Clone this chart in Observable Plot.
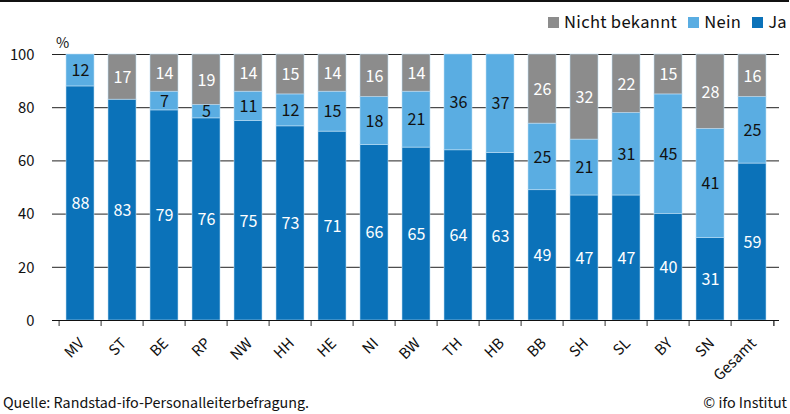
<!DOCTYPE html>
<html>
<head>
<meta charset="utf-8">
<script src="https://cdn.jsdelivr.net/npm/d3@7"></script>
<script src="https://cdn.jsdelivr.net/npm/@observablehq/plot@0.6"></script>
<style>
  html, body { margin: 0; padding: 0; background: #fff; }
  body { font-family: "Source Sans Pro", "Source Sans 3", Lato, sans-serif; color: #111; }
  #wrap { position: relative; width: 790px; height: 414px; overflow: hidden; }
  #topline { position: absolute; left: 0; top: 0; width: 789px; height: 2px; background: #111; }
  #legend { position: absolute; top: 9px; right: 3px; font-size: 18.5px; letter-spacing: 0.3px; display: flex; align-items: center; white-space: nowrap; }
  #legend .item { display: flex; align-items: center; margin-left: 11px; }
  #legend .sw { width: 11px; height: 11px; margin-right: 5px; }
  #pct { position: absolute; left: 56px; top: 32px; font-size: 16px; }
  #source { position: absolute; left: 3px; top: 392px; font-size: 16px; }
  #copy { position: absolute; right: 3px; top: 392px; font-size: 16px; }
  #chart { position: absolute; left: 0; top: 0; }
</style>
</head>
<body>
<div id="wrap">
  <div id="chart"></div>
  <div id="topline"></div>
  <div id="legend"></div>
  <div id="pct">%</div>
  <div id="source">Quelle: Randstad-ifo-Personalleiterbefragung.</div>
  <div id="copy">© ifo Institut</div>
</div>
<script>
const categories = ["MV","ST","BE","RP","NW","HH","HE","NI","BW","TH","HB","BB","SH","SL","BY","SN","Gesamt"];
const ja           = [88, 83, 79, 76, 75, 73, 71, 66, 65, 64, 63, 49, 47, 47, 40, 31, 59];
const nein         = [12,  0,  7,  5, 11, 12, 15, 18, 21, 36, 37, 25, 21, 31, 45, 41, 25];
const nichtBekannt = [ 0, 17, 14, 19, 14, 15, 14, 16, 14,  0,  0, 26, 32, 22, 15, 28, 16];
const series = ["Ja", "Nein", "Nicht bekannt"];
const colors = ["#0b72b9", "#5aade2", "#8c8c8c"];
const yTicks = [0, 20, 40, 60, 80, 100];
const legendOrder = ["Nicht bekannt", "Nein", "Ja"];

const rows = categories.flatMap((c, i) => [
  {cat: c, series: "Ja", value: ja[i]},
  {cat: c, series: "Nein", value: nein[i]},
  {cat: c, series: "Nicht bekannt", value: nichtBekannt[i]}
]);

const W = 790, H = 414, mL = 52, mR = 11, mT = 54, mB = 94;
const step = (W - mL - mR) / categories.length;

const stackOpts = {x: "cat", y: "value", z: "series", order: series};

const plot = Plot.plot({
  width: W, height: H,
  marginLeft: mL, marginRight: mR, marginTop: mT, marginBottom: mB,
  style: {fontFamily: '"Source Sans Pro", "Source Sans 3", Lato, sans-serif', fontSize: "16.5px", color: "#111", background: "transparent"},
  x: {domain: categories, paddingInner: 0.34, paddingOuter: 0.17, label: null, axis: null},
  y: {domain: [0, 100], label: null},
  color: {domain: series, range: colors},
  marks: [
    Plot.ruleY(yTicks.filter(t => t > 0), {stroke: "#222", strokeWidth: 1}),
    Plot.barY(rows, Plot.stackY({...stackOpts, fill: "series", stroke: "#bfe0f7", strokeWidth: 0.8, strokeOpacity: 0.7})),
    Plot.text(rows, Plot.stackY({...stackOpts, text: d => (d.value > 0 && d.series !== "Nein") ? d.value : null, fill: "white", fontSize: 18})),
    Plot.text(rows, Plot.stackY({...stackOpts, text: d => (d.value > 0 && d.series === "Nein") ? d.value : null, fill: "#111", fontSize: 18})),
    Plot.ruleX(categories, {x: d => d, y1: 0, y2: -2.3, dx: -step / 2, stroke: "#555", strokeWidth: 1.2}),
    Plot.ruleX(categories.slice(-1), {x: d => d, y1: 0, y2: -2.3, dx: step / 2, stroke: "#111", strokeWidth: 1.2}),
    Plot.ruleY([0], {stroke: "#111", strokeWidth: 1.2}),
    Plot.axisY({ticks: yTicks, tickSize: 0, tickPadding: 18, fontSize: 16.5}),
    Plot.text(categories, {x: d => d, y: 0, text: d => d, rotate: -45, textAnchor: "end", lineAnchor: "middle", dy: 20, dx: 1, fontSize: 16.5, fill: "#111"})
  ]
});
document.getElementById("chart").appendChild(plot);

// Split "translate(x,y) rotate(a)" into nested single transforms for robust rendering
plot.querySelectorAll("text").forEach(t => {
  const tr = t.getAttribute("transform") || "";
  const m = tr.match(/translate\(\s*([-\d.eE]+)[,\s]+([-\d.eE]+)\s*\)\s*rotate\(\s*([-\d.eE]+)\s*\)/);
  if (!m) return;
  const g = document.createElementNS("http://www.w3.org/2000/svg", "g");
  g.setAttribute("transform", `translate(${m[1]},${m[2]})`);
  t.parentNode.insertBefore(g, t);
  g.appendChild(t);
  t.setAttribute("transform", `rotate(${m[3]})`);
});

const legend = document.getElementById("legend");
legendOrder.forEach(s => {
  const item = document.createElement("div");
  item.className = "item";
  const sw = document.createElement("div");
  sw.className = "sw";
  sw.style.background = colors[series.indexOf(s)];
  const t = document.createElement("span");
  t.textContent = s;
  item.appendChild(sw); item.appendChild(t);
  legend.appendChild(item);
});
</script>
</body>
</html>
